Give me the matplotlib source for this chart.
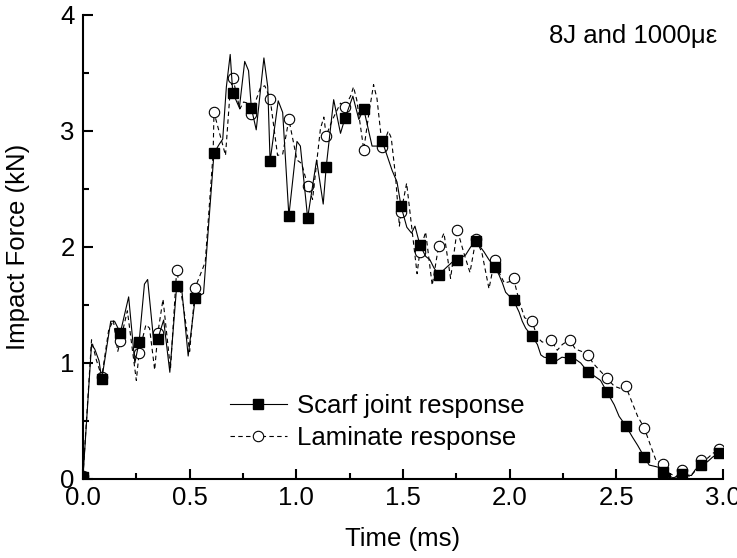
import numpy as np
import matplotlib
matplotlib.use('Agg')
import matplotlib.pyplot as plt
from matplotlib.ticker import MultipleLocator, FormatStrFormatter

plt.rcParams['font.family'] = ['Liberation Sans', 'DejaVu Sans']
plt.rcParams['font.size'] = 18.5

# sample times that carry a marker (ms)
marker_t = [0.000, 0.088, 0.175, 0.263, 0.351, 0.439, 0.526, 0.614, 0.702,
            0.789, 0.877, 0.965, 1.053, 1.140, 1.228, 1.316, 1.403, 1.491,
            1.579, 1.667, 1.754, 1.842, 1.930, 2.018, 2.105, 2.193, 2.281,
            2.368, 2.456, 2.544, 2.631, 2.719, 2.807, 2.895, 2.982]

# scarf joint: force at the marked samples (kN)
scarf_marker_f = [0.02, 0.86, 1.26, 1.18, 1.21, 1.66, 1.56, 2.81, 3.33, 3.20,
                  2.74, 2.27, 2.25, 2.69, 3.11, 3.19, 2.91, 2.35, 2.02, 1.76,
                  1.89, 2.05, 1.83, 1.54, 1.23, 1.04, 1.04, 0.92, 0.75, 0.46,
                  0.19, 0.06, 0.04, 0.12, 0.22]
# scarf joint: samples between the markers
scarf_t = [0.040, 0.055, 0.075, 0.130, 0.148, 0.214, 0.243, 0.288, 0.303,
           0.333, 0.378, 0.407, 0.460, 0.493, 0.565, 0.640, 0.655, 0.672,
           0.690, 0.733, 0.758, 0.776, 0.812, 0.848, 0.866, 0.915, 0.936,
           1.003, 1.019, 1.095, 1.126, 1.175, 1.207, 1.265, 1.293, 1.355,
           1.386, 1.449, 1.472, 1.518, 1.540, 1.556, 1.606, 1.626, 1.645,
           1.707, 1.731, 1.793, 1.817, 1.879, 1.903, 1.950, 1.966, 1.981,
           2.044, 2.059, 2.075, 2.130, 2.146, 2.161, 2.220, 2.245, 2.310,
           2.333, 2.395, 2.426, 2.490, 2.513, 2.576, 2.600, 2.654, 2.678,
           2.700, 2.764, 2.786, 2.852, 2.870, 2.928, 2.952, 3.000]
scarf_f = [1.16, 1.12, 1.02, 1.36, 1.36, 1.57, 1.00, 1.68, 1.72,
           1.16, 1.37, 0.92, 1.69, 1.06, 1.60, 2.89, 2.93, 3.38,
           3.66, 3.20, 3.60, 3.52, 3.01, 3.63, 3.38, 3.26, 3.16,
           2.91, 2.87, 2.75, 2.37, 3.27, 2.98, 3.30, 3.10, 2.87,
           2.87, 2.66, 2.56, 2.17, 2.12, 2.18, 1.92, 1.89, 1.82,
           1.83, 1.87, 1.93, 2.00, 1.96, 1.89, 1.76, 1.69, 1.61,
           1.44, 1.36, 1.30, 1.16, 1.07, 1.05, 1.02, 1.05, 1.03,
           1.00, 0.89, 0.85, 0.64, 0.54, 0.36, 0.29, 0.12, 0.11,
           0.10, 0.01, 0.02, 0.03, 0.08, 0.15, 0.19, 0.24]

# laminate: force at the marked samples (kN)
lam_marker_f = [0.03, 0.88, 1.19, 1.09, 1.26, 1.80, 1.65, 3.16, 3.46, 3.15,
                3.28, 3.10, 2.53, 2.96, 3.21, 2.84, 2.86, 2.30, 1.96, 2.01,
                2.15, 2.07, 1.89, 1.73, 1.36, 1.20, 1.20, 1.07, 0.87, 0.80,
                0.44, 0.13, 0.08, 0.16, 0.26]
# laminate: samples between the markers
lam_t = [0.040, 0.062, 0.120, 0.142, 0.163, 0.208, 0.250, 0.295, 0.312,
         0.336, 0.375, 0.410, 0.470, 0.500, 0.573, 0.610, 0.668, 0.688,
         0.735, 0.753, 0.772, 0.831, 0.852, 0.912, 0.936, 1.003, 1.025,
         1.076, 1.113, 1.129, 1.170, 1.207, 1.254, 1.268, 1.283, 1.340,
         1.362, 1.378, 1.431, 1.445, 1.465, 1.483, 1.517, 1.566, 1.606,
         1.637, 1.692, 1.723, 1.785, 1.814, 1.870, 1.903, 1.950, 1.975,
         1.998, 2.044, 2.070, 2.130, 2.153, 2.223, 2.247, 2.308, 2.337,
         2.390, 2.420, 2.490, 2.520, 2.576, 2.600, 2.662, 2.686, 2.748,
         2.780, 2.843, 2.865, 2.928, 2.952, 3.000]
lam_f = [1.20, 1.03, 1.28, 1.37, 1.10, 1.45, 0.85, 1.33, 1.30,
         0.94, 1.55, 0.95, 1.50, 1.10, 1.87, 2.81, 2.79, 3.30,
         3.19, 3.25, 3.24, 3.37, 3.39, 2.79, 2.80, 2.75, 2.72,
         2.41, 3.02, 3.12, 3.10, 3.24, 3.30, 3.38, 3.27, 3.15,
         3.40, 3.28, 3.00, 2.94, 2.61, 2.18, 2.55, 1.77, 2.13,
         1.67, 2.12, 1.73, 1.95, 1.78, 1.95, 1.64, 1.78, 1.69,
         1.70, 1.54, 1.39, 1.22, 1.18, 1.11, 1.16, 1.12, 1.10,
         1.00, 0.94, 0.80, 0.78, 0.65, 0.54, 0.28, 0.16, 0.05,
         0.02, 0.02, 0.06, 0.18, 0.22, 0.27]


def merge(mt, mf, vt, vf):
    """join marked and unmarked samples, return indices of the marked ones"""
    t = np.concatenate([mt, vt])
    f = np.concatenate([mf, vf])
    order = np.argsort(t, kind='stable')
    marked = np.r_[np.ones(len(mt), bool), np.zeros(len(vt), bool)][order]
    return t[order], f[order], list(np.flatnonzero(marked))


fig = plt.figure(figsize=(7.37, 5.58), dpi=100)
ax = fig.add_axes([83/737, 1 - 479/558, 640/737, 464/558])

lt, lf, lm = merge(marker_t, lam_marker_f, lam_t, lam_f)
st, sf, sm = merge(marker_t, scarf_marker_f, scarf_t, scarf_f)

ax.plot(lt, lf, color='black', linewidth=0.8, linestyle=(0, (4, 3)),
        marker='o', markevery=lm, markersize=7.5, markerfacecolor='white',
        markeredgecolor='black', markeredgewidth=0.8,
        label='Laminate response', zorder=2)
ax.plot(st, sf, color='black', linewidth=0.8, linestyle='-',
        marker='s', markevery=sm, markersize=7, markerfacecolor='black',
        markeredgecolor='black', label='Scarf joint response', zorder=3)

ax.set_xlim(0, 3.0)
ax.set_ylim(0, 4)
ax.xaxis.set_major_locator(MultipleLocator(0.5))
ax.xaxis.set_minor_locator(MultipleLocator(0.25))
ax.xaxis.set_major_formatter(FormatStrFormatter('%.1f'))
ax.yaxis.set_major_locator(MultipleLocator(1))
ax.yaxis.set_minor_locator(MultipleLocator(0.5))

# axes: left and bottom only, ticks pointing in
ax.spines['right'].set_visible(False)
ax.spines['top'].set_visible(False)
for key in ['left', 'bottom']:
    ax.spines[key].set_linewidth(1.5)
ax.tick_params(which='both', direction='in', width=1.5, top=False, right=False)
ax.tick_params(which='major', length=7.5)
ax.tick_params(which='minor', length=4.5)
ax.tick_params(axis='x', which='major', pad=5)
ax.tick_params(axis='y', which='major', pad=6)

ax.set_xlabel('Time (ms)')
ax.set_ylabel('Impact Force (kN)')
ax.xaxis.set_label_coords(0.5, -0.104)
ax.yaxis.set_label_coords(-0.083, 0.5)

handles, labels = ax.get_legend_handles_labels()
ax.legend(handles[::-1], labels[::-1], loc='upper left',
          bbox_to_anchor=(230/737, 1 - 394/558), bbox_transform=fig.transFigure,
          frameon=False, borderpad=0, borderaxespad=0, handlelength=2.2,
          handletextpad=0.4, labelspacing=0.33, numpoints=1)

fig.text(717/737, 1 - 43/558, '8J and 1000\u03bc\u03b5', ha='right', va='baseline')

fig.savefig('out.png', dpi=100)
